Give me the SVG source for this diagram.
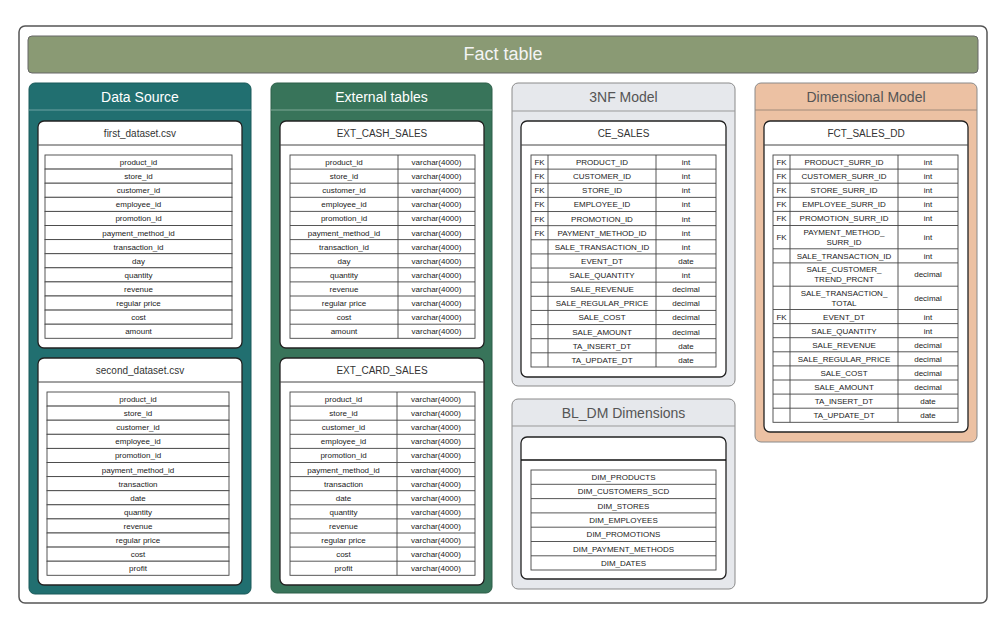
<svg xmlns="http://www.w3.org/2000/svg" width="1007" height="631" viewBox="0 0 1007 631">
<style>
text{font-family:"Liberation Sans",Arial,sans-serif;}
.frame{fill:#fff;stroke:#555;stroke-width:1.5;}
.card{fill:#fff;stroke:#222;stroke-width:1.3;}
.cdiv{stroke:#444;stroke-width:1;}
.row{fill:#fff;stroke:#444;stroke-width:0.9;}
.cell{stroke:#444;stroke-width:0.9;}
.t{font-size:8px;fill:#222;text-anchor:middle;}
.ct{font-size:10px;fill:#333;text-anchor:middle;}
.pt{font-size:14px;text-anchor:middle;}
.w{fill:#fff;}
.g{fill:#555;}
</style>
<rect class="frame" x="19" y="26" width="968" height="577" rx="6"/>
<g id="fact_table">
<rect x="28" y="36" width="950" height="37" rx="4" fill="#8a9a74" stroke="#666" stroke-width="1"/>
<text x="503" y="59.5" font-size="18" fill="#f4f4f4" text-anchor="middle">Fact table</text>
</g>

<g id="data_source">
<rect x="29" y="83" width="222" height="511" rx="6" fill="#216f70" stroke="#1a5a5a" stroke-width="1"/>
<line x1="29" y1="110" x2="251" y2="110" stroke="#6fa3a3" stroke-width="1"/>
<text class="pt w" x="140" y="102">Data Source</text>
</g>
<g id="first_dataset">
<rect class="card" x="38" y="121" width="204" height="227" rx="6"/>
<line class="cdiv" x1="38" y1="145" x2="242" y2="145"/>
<text class="ct" x="140" y="137">first_dataset.csv</text>
<g>
<rect class="row" x="45" y="155" width="187" height="14.1"/><text class="t" x="138.5" y="165">product_id</text>
<rect class="row" x="45" y="169.1" width="187" height="14.1"/><text class="t" x="138.5" y="179.1">store_id</text>
<rect class="row" x="45" y="183.2" width="187" height="14.1"/><text class="t" x="138.5" y="193.2">customer_id</text>
<rect class="row" x="45" y="197.3" width="187" height="14.1"/><text class="t" x="138.5" y="207.3">employee_id</text>
<rect class="row" x="45" y="211.4" width="187" height="14.1"/><text class="t" x="138.5" y="221.4">promotion_id</text>
<rect class="row" x="45" y="225.5" width="187" height="14.1"/><text class="t" x="138.5" y="235.5">payment_method_id</text>
<rect class="row" x="45" y="239.6" width="187" height="14.1"/><text class="t" x="138.5" y="249.6">transaction_id</text>
<rect class="row" x="45" y="253.7" width="187" height="14.1"/><text class="t" x="138.5" y="263.7">day</text>
<rect class="row" x="45" y="267.8" width="187" height="14.1"/><text class="t" x="138.5" y="277.8">quantity</text>
<rect class="row" x="45" y="281.9" width="187" height="14.1"/><text class="t" x="138.5" y="291.9">revenue</text>
<rect class="row" x="45" y="296" width="187" height="14.1"/><text class="t" x="138.5" y="306">regular price</text>
<rect class="row" x="45" y="310.1" width="187" height="14.1"/><text class="t" x="138.5" y="320.1">cost</text>
<rect class="row" x="45" y="324.2" width="187" height="14.1"/><text class="t" x="138.5" y="334.2">amount</text>
</g>
</g>
<g id="second_dataset">
<rect class="card" x="38" y="358" width="204" height="227" rx="6"/>
<line class="cdiv" x1="38" y1="382" x2="242" y2="382"/>
<text class="ct" x="140" y="374">second_dataset.csv</text>
<g>
<rect class="row" x="47" y="392" width="182" height="14.1"/><text class="t" x="138" y="402">product_id</text>
<rect class="row" x="47" y="406.1" width="182" height="14.1"/><text class="t" x="138" y="416.1">store_id</text>
<rect class="row" x="47" y="420.2" width="182" height="14.1"/><text class="t" x="138" y="430.2">customer_id</text>
<rect class="row" x="47" y="434.3" width="182" height="14.1"/><text class="t" x="138" y="444.3">employee_id</text>
<rect class="row" x="47" y="448.4" width="182" height="14.1"/><text class="t" x="138" y="458.4">promotion_id</text>
<rect class="row" x="47" y="462.5" width="182" height="14.1"/><text class="t" x="138" y="472.5">payment_method_id</text>
<rect class="row" x="47" y="476.6" width="182" height="14.1"/><text class="t" x="138" y="486.6">transaction</text>
<rect class="row" x="47" y="490.7" width="182" height="14.1"/><text class="t" x="138" y="500.7">date</text>
<rect class="row" x="47" y="504.8" width="182" height="14.1"/><text class="t" x="138" y="514.8">quantity</text>
<rect class="row" x="47" y="518.9" width="182" height="14.1"/><text class="t" x="138" y="528.9">revenue</text>
<rect class="row" x="47" y="533" width="182" height="14.1"/><text class="t" x="138" y="543">regular price</text>
<rect class="row" x="47" y="547.1" width="182" height="14.1"/><text class="t" x="138" y="557.1">cost</text>
<rect class="row" x="47" y="561.2" width="182" height="14.1"/><text class="t" x="138" y="571.2">profit</text>
</g>
</g>

<g id="external_tables">
<rect x="271" y="83" width="221" height="510" rx="6" fill="#38745a" stroke="#2c5e48" stroke-width="1"/>
<line x1="271" y1="110" x2="492" y2="110" stroke="#7fa896" stroke-width="1"/>
<text class="pt w" x="381.5" y="102">External tables</text>
</g>
<g id="ext_cash_sales">
<rect class="card" x="280" y="121" width="204" height="227" rx="6"/>
<line class="cdiv" x1="280" y1="145" x2="484" y2="145"/>
<text class="ct" x="382" y="137">EXT_CASH_SALES</text>
<rect class="row" x="290" y="155" width="185" height="183.3"/>
<line class="cell" x1="398" y1="155" x2="398" y2="338.3"/>
<g class="cell">
<line x1="290" y1="169.1" x2="475" y2="169.1"/><line x1="290" y1="183.2" x2="475" y2="183.2"/><line x1="290" y1="197.3" x2="475" y2="197.3"/><line x1="290" y1="211.4" x2="475" y2="211.4"/><line x1="290" y1="225.5" x2="475" y2="225.5"/><line x1="290" y1="239.6" x2="475" y2="239.6"/><line x1="290" y1="253.7" x2="475" y2="253.7"/><line x1="290" y1="267.8" x2="475" y2="267.8"/><line x1="290" y1="281.9" x2="475" y2="281.9"/><line x1="290" y1="296" x2="475" y2="296"/><line x1="290" y1="310.1" x2="475" y2="310.1"/><line x1="290" y1="324.2" x2="475" y2="324.2"/>
</g>
<text class="t" x="344" y="165">product_id</text><text class="t" x="436.5" y="165">varchar(4000)</text>
<text class="t" x="344" y="179.1">store_id</text><text class="t" x="436.5" y="179.1">varchar(4000)</text>
<text class="t" x="344" y="193.2">customer_id</text><text class="t" x="436.5" y="193.2">varchar(4000)</text>
<text class="t" x="344" y="207.3">employee_id</text><text class="t" x="436.5" y="207.3">varchar(4000)</text>
<text class="t" x="344" y="221.4">promotion_id</text><text class="t" x="436.5" y="221.4">varchar(4000)</text>
<text class="t" x="344" y="235.5">payment_method_id</text><text class="t" x="436.5" y="235.5">varchar(4000)</text>
<text class="t" x="344" y="249.6">transaction_id</text><text class="t" x="436.5" y="249.6">varchar(4000)</text>
<text class="t" x="344" y="263.7">day</text><text class="t" x="436.5" y="263.7">varchar(4000)</text>
<text class="t" x="344" y="277.8">quantity</text><text class="t" x="436.5" y="277.8">varchar(4000)</text>
<text class="t" x="344" y="291.9">revenue</text><text class="t" x="436.5" y="291.9">varchar(4000)</text>
<text class="t" x="344" y="306">regular price</text><text class="t" x="436.5" y="306">varchar(4000)</text>
<text class="t" x="344" y="320.1">cost</text><text class="t" x="436.5" y="320.1">varchar(4000)</text>
<text class="t" x="344" y="334.2">amount</text><text class="t" x="436.5" y="334.2">varchar(4000)</text>
</g>
<g id="ext_card_sales">
<rect class="card" x="280" y="358" width="204" height="227" rx="6"/>
<line class="cdiv" x1="280" y1="382" x2="484" y2="382"/>
<text class="ct" x="382" y="374">EXT_CARD_SALES</text>
<rect class="row" x="290" y="392" width="185" height="183.3"/>
<line class="cell" x1="397" y1="392" x2="397" y2="575.3"/>
<g class="cell">
<line x1="290" y1="406.1" x2="475" y2="406.1"/><line x1="290" y1="420.2" x2="475" y2="420.2"/><line x1="290" y1="434.3" x2="475" y2="434.3"/><line x1="290" y1="448.4" x2="475" y2="448.4"/><line x1="290" y1="462.5" x2="475" y2="462.5"/><line x1="290" y1="476.6" x2="475" y2="476.6"/><line x1="290" y1="490.7" x2="475" y2="490.7"/><line x1="290" y1="504.8" x2="475" y2="504.8"/><line x1="290" y1="518.9" x2="475" y2="518.9"/><line x1="290" y1="533" x2="475" y2="533"/><line x1="290" y1="547.1" x2="475" y2="547.1"/><line x1="290" y1="561.2" x2="475" y2="561.2"/>
</g>
<text class="t" x="343.5" y="402">product_id</text><text class="t" x="436" y="402">varchar(4000)</text>
<text class="t" x="343.5" y="416.1">store_id</text><text class="t" x="436" y="416.1">varchar(4000)</text>
<text class="t" x="343.5" y="430.2">customer_id</text><text class="t" x="436" y="430.2">varchar(4000)</text>
<text class="t" x="343.5" y="444.3">employee_id</text><text class="t" x="436" y="444.3">varchar(4000)</text>
<text class="t" x="343.5" y="458.4">promotion_id</text><text class="t" x="436" y="458.4">varchar(4000)</text>
<text class="t" x="343.5" y="472.5">payment_method_id</text><text class="t" x="436" y="472.5">varchar(4000)</text>
<text class="t" x="343.5" y="486.6">transaction</text><text class="t" x="436" y="486.6">varchar(4000)</text>
<text class="t" x="343.5" y="500.7">date</text><text class="t" x="436" y="500.7">varchar(4000)</text>
<text class="t" x="343.5" y="514.8">quantity</text><text class="t" x="436" y="514.8">varchar(4000)</text>
<text class="t" x="343.5" y="528.9">revenue</text><text class="t" x="436" y="528.9">varchar(4000)</text>
<text class="t" x="343.5" y="543">regular price</text><text class="t" x="436" y="543">varchar(4000)</text>
<text class="t" x="343.5" y="557.1">cost</text><text class="t" x="436" y="557.1">varchar(4000)</text>
<text class="t" x="343.5" y="571.2">profit</text><text class="t" x="436" y="571.2">varchar(4000)</text>
</g>

<g id="model_3nf">
<rect x="512" y="83" width="223" height="303" rx="6" fill="#e6e8ec" stroke="#8a8a8a" stroke-width="1"/>
<line x1="512" y1="111" x2="735" y2="111" stroke="#999" stroke-width="1"/>
<text class="pt g" x="623.5" y="102">3NF Model</text>
</g>
<g id="ce_sales">
<rect class="card" x="521" y="121" width="205" height="256" rx="6"/>
<line class="cdiv" x1="521" y1="145" x2="726" y2="145"/>
<text class="ct" x="623.5" y="137">CE_SALES</text>
<rect class="row" x="531" y="155" width="185" height="212"/>
<line class="cell" x1="548" y1="155" x2="548" y2="367"/>
<line class="cell" x1="656" y1="155" x2="656" y2="367"/>
<g class="cell">
<line x1="531" y1="169.13" x2="716" y2="169.13"/><line x1="531" y1="183.26" x2="716" y2="183.26"/><line x1="531" y1="197.39" x2="716" y2="197.39"/><line x1="531" y1="211.52" x2="716" y2="211.52"/><line x1="531" y1="225.65" x2="716" y2="225.65"/><line x1="531" y1="239.78" x2="716" y2="239.78"/><line x1="531" y1="253.91" x2="716" y2="253.91"/><line x1="531" y1="268.04" x2="716" y2="268.04"/><line x1="531" y1="282.17" x2="716" y2="282.17"/><line x1="531" y1="296.3" x2="716" y2="296.3"/><line x1="531" y1="310.43" x2="716" y2="310.43"/><line x1="531" y1="324.56" x2="716" y2="324.56"/><line x1="531" y1="338.69" x2="716" y2="338.69"/><line x1="531" y1="352.82" x2="716" y2="352.82"/>
</g>
<text class="t" x="539.5" y="165">FK</text><text class="t" x="602" y="165">PRODUCT_ID</text><text class="t" x="686" y="165">int</text>
<text class="t" x="539.5" y="179.1">FK</text><text class="t" x="602" y="179.1">CUSTOMER_ID</text><text class="t" x="686" y="179.1">int</text>
<text class="t" x="539.5" y="193.3">FK</text><text class="t" x="602" y="193.3">STORE_ID</text><text class="t" x="686" y="193.3">int</text>
<text class="t" x="539.5" y="207.4">FK</text><text class="t" x="602" y="207.4">EMPLOYEE_ID</text><text class="t" x="686" y="207.4">int</text>
<text class="t" x="539.5" y="221.5">FK</text><text class="t" x="602" y="221.5">PROMOTION_ID</text><text class="t" x="686" y="221.5">int</text>
<text class="t" x="539.5" y="235.7">FK</text><text class="t" x="602" y="235.7">PAYMENT_METHOD_ID</text><text class="t" x="686" y="235.7">int</text>
<text class="t" x="602" y="249.8">SALE_TRANSACTION_ID</text><text class="t" x="686" y="249.8">int</text>
<text class="t" x="602" y="263.9">EVENT_DT</text><text class="t" x="686" y="263.9">date</text>
<text class="t" x="602" y="278">SALE_QUANTITY</text><text class="t" x="686" y="278">int</text>
<text class="t" x="602" y="292.2">SALE_REVENUE</text><text class="t" x="686" y="292.2">decimal</text>
<text class="t" x="602" y="306.3">SALE_REGULAR_PRICE</text><text class="t" x="686" y="306.3">decimal</text>
<text class="t" x="602" y="320.4">SALE_COST</text><text class="t" x="686" y="320.4">decimal</text>
<text class="t" x="602" y="334.6">SALE_AMOUNT</text><text class="t" x="686" y="334.6">decimal</text>
<text class="t" x="602" y="348.7">TA_INSERT_DT</text><text class="t" x="686" y="348.7">date</text>
<text class="t" x="602" y="362.8">TA_UPDATE_DT</text><text class="t" x="686" y="362.8">date</text>
</g>

<g id="bl_dm_dimensions">
<rect x="512" y="399" width="223" height="190" rx="6" fill="#e6e8ec" stroke="#8a8a8a" stroke-width="1"/>
<line x1="512" y1="426" x2="735" y2="426" stroke="#999" stroke-width="1"/>
<text class="pt g" x="623.5" y="418">BL_DM Dimensions</text>
</g>
<g id="dimensions_list">
<rect class="card" x="521" y="437" width="205" height="142" rx="6"/>
<line x1="521" y1="460" x2="726" y2="460" stroke="#111" stroke-width="1.5"/>
<rect class="row" x="531" y="470" width="185" height="100"/>
<g class="cell">
<line x1="531" y1="484.3" x2="716" y2="484.3"/><line x1="531" y1="498.6" x2="716" y2="498.6"/><line x1="531" y1="512.9" x2="716" y2="512.9"/><line x1="531" y1="527.2" x2="716" y2="527.2"/><line x1="531" y1="541.5" x2="716" y2="541.5"/><line x1="531" y1="555.8" x2="716" y2="555.8"/>
</g>
<text class="t" x="623.5" y="480">DIM_PRODUCTS</text>
<text class="t" x="623.5" y="494.3">DIM_CUSTOMERS_SCD</text>
<text class="t" x="623.5" y="508.6">DIM_STORES</text>
<text class="t" x="623.5" y="522.9">DIM_EMPLOYEES</text>
<text class="t" x="623.5" y="537.2">DIM_PROMOTIONS</text>
<text class="t" x="623.5" y="551.5">DIM_PAYMENT_METHODS</text>
<text class="t" x="623.5" y="565.8">DIM_DATES</text>
</g>

<g id="dimensional_model">
<rect x="755" y="83" width="222" height="359" rx="6" fill="#ecc1a3" stroke="#8a8a8a" stroke-width="1"/>
<line x1="755" y1="110" x2="977" y2="110" stroke="#a08a7a" stroke-width="1"/>
<text class="pt g" x="866" y="102">Dimensional Model</text>
</g>
<g id="fct_sales_dd">
<rect class="card" x="764" y="121" width="204" height="311" rx="6"/>
<line class="cdiv" x1="764" y1="145" x2="968" y2="145"/>
<text class="ct" x="866" y="137">FCT_SALES_DD</text>
<rect class="row" x="773" y="155" width="185" height="267.3"/>
<line class="cell" x1="790" y1="155" x2="790" y2="422.3"/>
<line class="cell" x1="898" y1="155" x2="898" y2="422.3"/>
<g class="cell">
<line x1="773" y1="169.1" x2="958" y2="169.1"/><line x1="773" y1="183.2" x2="958" y2="183.2"/><line x1="773" y1="197.3" x2="958" y2="197.3"/><line x1="773" y1="211.4" x2="958" y2="211.4"/><line x1="773" y1="225.5" x2="958" y2="225.5"/><line x1="773" y1="248.8" x2="958" y2="248.8"/><line x1="773" y1="262.9" x2="958" y2="262.9"/><line x1="773" y1="286.2" x2="958" y2="286.2"/><line x1="773" y1="309.5" x2="958" y2="309.5"/><line x1="773" y1="323.6" x2="958" y2="323.6"/><line x1="773" y1="337.7" x2="958" y2="337.7"/><line x1="773" y1="351.8" x2="958" y2="351.8"/><line x1="773" y1="365.9" x2="958" y2="365.9"/><line x1="773" y1="380" x2="958" y2="380"/><line x1="773" y1="394.1" x2="958" y2="394.1"/><line x1="773" y1="408.2" x2="958" y2="408.2"/>
</g>
<text class="t" x="781.5" y="165">FK</text><text class="t" x="844" y="165">PRODUCT_SURR_ID</text><text class="t" x="928" y="165">int</text>
<text class="t" x="781.5" y="179.1">FK</text><text class="t" x="844" y="179.1">CUSTOMER_SURR_ID</text><text class="t" x="928" y="179.1">int</text>
<text class="t" x="781.5" y="193.2">FK</text><text class="t" x="844" y="193.2">STORE_SURR_ID</text><text class="t" x="928" y="193.2">int</text>
<text class="t" x="781.5" y="207.3">FK</text><text class="t" x="844" y="207.3">EMPLOYEE_SURR_ID</text><text class="t" x="928" y="207.3">int</text>
<text class="t" x="781.5" y="221.4">FK</text><text class="t" x="844" y="221.4">PROMOTION_SURR_ID</text><text class="t" x="928" y="221.4">int</text>
<text class="t" x="781.5" y="240">FK</text><text class="t" x="844" y="234.7">PAYMENT_METHOD_</text><text class="t" x="844" y="245">SURR_ID</text><text class="t" x="928" y="240">int</text>
<text class="t" x="844" y="258.8">SALE_TRANSACTION_ID</text><text class="t" x="928" y="258.8">int</text>
<text class="t" x="844" y="272.3">SALE_CUSTOMER_</text><text class="t" x="844" y="282.4">TREND_PRCNT</text><text class="t" x="928" y="277.4">decimal</text>
<text class="t" x="844" y="295.6">SALE_TRANSACTION_</text><text class="t" x="844" y="305.7">TOTAL</text><text class="t" x="928" y="300.7">decimal</text>
<text class="t" x="781.5" y="319.5">FK</text><text class="t" x="844" y="319.5">EVENT_DT</text><text class="t" x="928" y="319.5">int</text>
<text class="t" x="844" y="333.6">SALE_QUANTITY</text><text class="t" x="928" y="333.6">int</text>
<text class="t" x="844" y="347.7">SALE_REVENUE</text><text class="t" x="928" y="347.7">decimal</text>
<text class="t" x="844" y="361.8">SALE_REGULAR_PRICE</text><text class="t" x="928" y="361.8">decimal</text>
<text class="t" x="844" y="375.9">SALE_COST</text><text class="t" x="928" y="375.9">decimal</text>
<text class="t" x="844" y="390">SALE_AMOUNT</text><text class="t" x="928" y="390">decimal</text>
<text class="t" x="844" y="404.1">TA_INSERT_DT</text><text class="t" x="928" y="404.1">date</text>
<text class="t" x="844" y="418.2">TA_UPDATE_DT</text><text class="t" x="928" y="418.2">date</text>
</g>
<g id="connectors"></g>
</svg>
